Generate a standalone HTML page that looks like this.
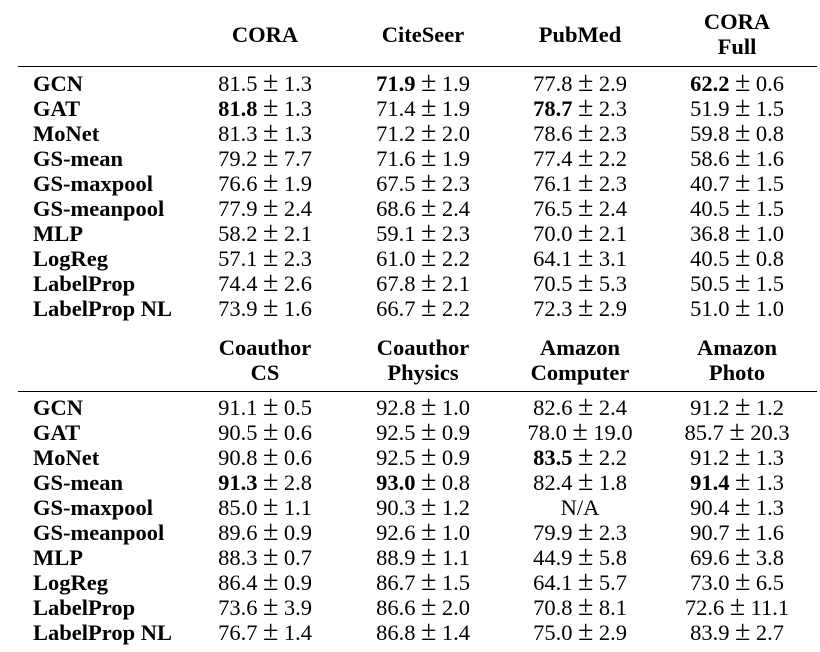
<!DOCTYPE html>
<html>
<head>
<meta charset="utf-8">
<style>
  html, body { margin:0; padding:0; background:#fff; }
  body { width:820px; height:652px; position:relative; overflow:hidden;
         font-family:"Liberation Serif", "Times New Roman", serif; color:#000; font-size:22.5px; }
  .r { position:absolute; left:0; width:820px; height:25px; line-height:25px; white-space:nowrap; }
  .l { position:absolute; left:33px; font-weight:bold; }
  .c { position:absolute; width:200px; text-align:center; }
  .c1 { left:165px; } .c2 { left:323px; } .c3 { left:480px; } .c4 { left:637px; }
  .h { font-weight:bold; }
  .pm { margin:0 5.5px; font-size:28px; line-height:0; }
  b { font-weight:bold; }
  .rule { position:absolute; left:18px; width:799px; height:1.4px; background:#000; }
</style>
</head>
<body>

<!-- Header 1 -->
<div class="r" style="top:9px">
  <div class="c c4 h">CORA</div>
</div>
<div class="r" style="top:22px">
  <div class="c c1 h">CORA</div>
  <div class="c c2 h">CiteSeer</div>
  <div class="c c3 h">PubMed</div>
</div>
<div class="r" style="top:34px">
  <div class="c c4 h">Full</div>
</div>
<div class="rule" style="top:65.5px"></div>

<div class="r" style="top:70.6px"><div class="l">GCN</div>
  <div class="c c1">81.5<span class="pm">±</span>1.3</div>
  <div class="c c2"><b>71.9</b><span class="pm">±</span>1.9</div>
  <div class="c c3">77.8<span class="pm">±</span>2.9</div>
  <div class="c c4"><b>62.2</b><span class="pm">±</span>0.6</div></div>
<div class="r" style="top:95.6px"><div class="l">GAT</div>
  <div class="c c1"><b>81.8</b><span class="pm">±</span>1.3</div>
  <div class="c c2">71.4<span class="pm">±</span>1.9</div>
  <div class="c c3"><b>78.7</b><span class="pm">±</span>2.3</div>
  <div class="c c4">51.9<span class="pm">±</span>1.5</div></div>
<div class="r" style="top:120.6px"><div class="l">MoNet</div>
  <div class="c c1">81.3<span class="pm">±</span>1.3</div>
  <div class="c c2">71.2<span class="pm">±</span>2.0</div>
  <div class="c c3">78.6<span class="pm">±</span>2.3</div>
  <div class="c c4">59.8<span class="pm">±</span>0.8</div></div>
<div class="r" style="top:145.6px"><div class="l">GS-mean</div>
  <div class="c c1">79.2<span class="pm">±</span>7.7</div>
  <div class="c c2">71.6<span class="pm">±</span>1.9</div>
  <div class="c c3">77.4<span class="pm">±</span>2.2</div>
  <div class="c c4">58.6<span class="pm">±</span>1.6</div></div>
<div class="r" style="top:170.6px"><div class="l">GS-maxpool</div>
  <div class="c c1">76.6<span class="pm">±</span>1.9</div>
  <div class="c c2">67.5<span class="pm">±</span>2.3</div>
  <div class="c c3">76.1<span class="pm">±</span>2.3</div>
  <div class="c c4">40.7<span class="pm">±</span>1.5</div></div>
<div class="r" style="top:195.6px"><div class="l">GS-meanpool</div>
  <div class="c c1">77.9<span class="pm">±</span>2.4</div>
  <div class="c c2">68.6<span class="pm">±</span>2.4</div>
  <div class="c c3">76.5<span class="pm">±</span>2.4</div>
  <div class="c c4">40.5<span class="pm">±</span>1.5</div></div>
<div class="r" style="top:220.6px"><div class="l">MLP</div>
  <div class="c c1">58.2<span class="pm">±</span>2.1</div>
  <div class="c c2">59.1<span class="pm">±</span>2.3</div>
  <div class="c c3">70.0<span class="pm">±</span>2.1</div>
  <div class="c c4">36.8<span class="pm">±</span>1.0</div></div>
<div class="r" style="top:245.6px"><div class="l">LogReg</div>
  <div class="c c1">57.1<span class="pm">±</span>2.3</div>
  <div class="c c2">61.0<span class="pm">±</span>2.2</div>
  <div class="c c3">64.1<span class="pm">±</span>3.1</div>
  <div class="c c4">40.5<span class="pm">±</span>0.8</div></div>
<div class="r" style="top:270.6px"><div class="l">LabelProp</div>
  <div class="c c1">74.4<span class="pm">±</span>2.6</div>
  <div class="c c2">67.8<span class="pm">±</span>2.1</div>
  <div class="c c3">70.5<span class="pm">±</span>5.3</div>
  <div class="c c4">50.5<span class="pm">±</span>1.5</div></div>
<div class="r" style="top:295.6px"><div class="l">LabelProp NL</div>
  <div class="c c1">73.9<span class="pm">±</span>1.6</div>
  <div class="c c2">66.7<span class="pm">±</span>2.2</div>
  <div class="c c3">72.3<span class="pm">±</span>2.9</div>
  <div class="c c4">51.0<span class="pm">±</span>1.0</div></div>

<!-- Header 2 -->
<div class="r" style="top:335px">
  <div class="c c1 h">Coauthor</div>
  <div class="c c2 h">Coauthor</div>
  <div class="c c3 h">Amazon</div>
  <div class="c c4 h">Amazon</div>
</div>
<div class="r" style="top:360px">
  <div class="c c1 h">CS</div>
  <div class="c c2 h">Physics</div>
  <div class="c c3 h">Computer</div>
  <div class="c c4 h">Photo</div>
</div>
<div class="rule" style="top:391px"></div>

<div class="r" style="top:395px"><div class="l">GCN</div>
  <div class="c c1">91.1<span class="pm">±</span>0.5</div>
  <div class="c c2">92.8<span class="pm">±</span>1.0</div>
  <div class="c c3">82.6<span class="pm">±</span>2.4</div>
  <div class="c c4">91.2<span class="pm">±</span>1.2</div></div>
<div class="r" style="top:420px"><div class="l">GAT</div>
  <div class="c c1">90.5<span class="pm">±</span>0.6</div>
  <div class="c c2">92.5<span class="pm">±</span>0.9</div>
  <div class="c c3">78.0<span class="pm">±</span>19.0</div>
  <div class="c c4">85.7<span class="pm">±</span>20.3</div></div>
<div class="r" style="top:445px"><div class="l">MoNet</div>
  <div class="c c1">90.8<span class="pm">±</span>0.6</div>
  <div class="c c2">92.5<span class="pm">±</span>0.9</div>
  <div class="c c3"><b>83.5</b><span class="pm">±</span>2.2</div>
  <div class="c c4">91.2<span class="pm">±</span>1.3</div></div>
<div class="r" style="top:470px"><div class="l">GS-mean</div>
  <div class="c c1"><b>91.3</b><span class="pm">±</span>2.8</div>
  <div class="c c2"><b>93.0</b><span class="pm">±</span>0.8</div>
  <div class="c c3">82.4<span class="pm">±</span>1.8</div>
  <div class="c c4"><b>91.4</b><span class="pm">±</span>1.3</div></div>
<div class="r" style="top:495px"><div class="l">GS-maxpool</div>
  <div class="c c1">85.0<span class="pm">±</span>1.1</div>
  <div class="c c2">90.3<span class="pm">±</span>1.2</div>
  <div class="c c3">N/A</div>
  <div class="c c4">90.4<span class="pm">±</span>1.3</div></div>
<div class="r" style="top:520px"><div class="l">GS-meanpool</div>
  <div class="c c1">89.6<span class="pm">±</span>0.9</div>
  <div class="c c2">92.6<span class="pm">±</span>1.0</div>
  <div class="c c3">79.9<span class="pm">±</span>2.3</div>
  <div class="c c4">90.7<span class="pm">±</span>1.6</div></div>
<div class="r" style="top:545px"><div class="l">MLP</div>
  <div class="c c1">88.3<span class="pm">±</span>0.7</div>
  <div class="c c2">88.9<span class="pm">±</span>1.1</div>
  <div class="c c3">44.9<span class="pm">±</span>5.8</div>
  <div class="c c4">69.6<span class="pm">±</span>3.8</div></div>
<div class="r" style="top:570px"><div class="l">LogReg</div>
  <div class="c c1">86.4<span class="pm">±</span>0.9</div>
  <div class="c c2">86.7<span class="pm">±</span>1.5</div>
  <div class="c c3">64.1<span class="pm">±</span>5.7</div>
  <div class="c c4">73.0<span class="pm">±</span>6.5</div></div>
<div class="r" style="top:595px"><div class="l">LabelProp</div>
  <div class="c c1">73.6<span class="pm">±</span>3.9</div>
  <div class="c c2">86.6<span class="pm">±</span>2.0</div>
  <div class="c c3">70.8<span class="pm">±</span>8.1</div>
  <div class="c c4">72.6<span class="pm">±</span>11.1</div></div>
<div class="r" style="top:620px"><div class="l">LabelProp NL</div>
  <div class="c c1">76.7<span class="pm">±</span>1.4</div>
  <div class="c c2">86.8<span class="pm">±</span>1.4</div>
  <div class="c c3">75.0<span class="pm">±</span>2.9</div>
  <div class="c c4">83.9<span class="pm">±</span>2.7</div></div>

</body>
</html>
